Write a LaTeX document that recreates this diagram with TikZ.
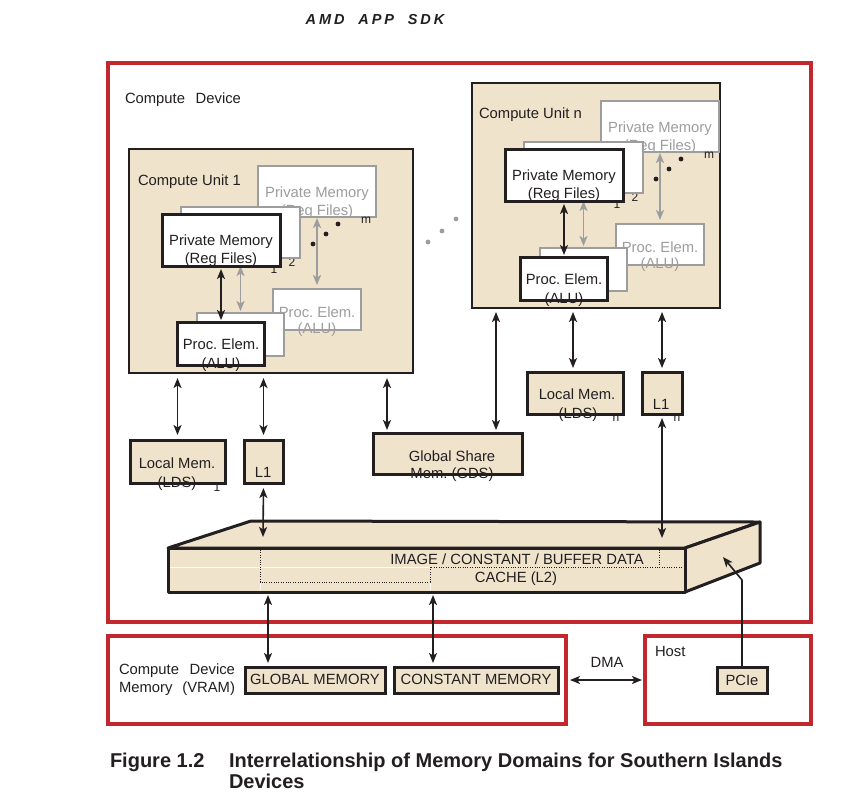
\documentclass[tikz,border=0pt]{standalone}
\usepackage{fontspec}
\setmainfont{Liberation Sans}
\usetikzlibrary{arrows.meta,calc}
\definecolor{tanfill}{HTML}{EFE3CC}
\definecolor{redline}{HTML}{C1272D}
\definecolor{grayline}{HTML}{9D9D9D}
\definecolor{ink}{HTML}{231F20}
\newcommand\mainfs{\fontsize{14.8}{17}\selectfont\frenchspacing}
\newcommand\smallfs{\fontsize{12}{14}\selectfont}
\newcommand\hdrfs{\fontsize{14.5}{17}\selectfont\bfseries\itshape\addfontfeature{LetterSpace=20}}
\newcommand\capfs{\fontsize{20}{24}\selectfont\bfseries}
\newcommand\cuparts[1]{%
  % back private memory
  \node[backbox, minimum width=118pt, minimum height=51pt] (pmb#1) at (317,191.5) {};
  \node[glbl] (pmbt#1) at (317,197) {Private Memory};
  \node[glbl] (pmbu#1) at (317,215) {(Reg Files)};
  \node[tiny] (lm#1) at (366,223.5) {m};
  \node[tiny] (l2#1) at (292,266.5) {2};
  \node[tiny] (l1#1) at (274,273) {1};
  \fill[ink] (313,244) circle (2.4pt) (326,234) circle (2.4pt) (338,224) circle (2.4pt);
  % back processing element
  \node[backbox, minimum width=88pt, minimum height=41pt] (peb#1) at (317,309.5) {};
  \node[glbl] (pebt#1) at (317,317) {Proc. Elem.};
  \node[glbl] (pebu#1) at (317,333) {(ALU)};
  \draw[glink, shorten <=1pt, shorten >=4pt] (pmb#1.south) -- (peb#1.north);
  % middle boxes
  \node[backbox, minimum width=87pt, minimum height=43pt] (pem#1) at (240.5,334.5) {};
  \node[backbox, minimum width=119pt, minimum height=51pt] (pmm#1) at (240.5,232.5) {};
  \draw[glink, shorten <=8pt, shorten >=2pt] (pmm#1.south) -- (pem#1.north);
  % front boxes
  \node[frontbox, minimum width=118pt, minimum height=52pt] (pmf#1) at (221,240) {};
  \node[lbl] (pmft#1) at (221,245) {Private Memory};
  \node[lbl] (pmfu#1) at (221,263) {(Reg Files)};
  \node[frontbox, minimum width=87pt, minimum height=43pt] (pef#1) at (220.5,343.5) {};
  \node[lbl] (peft#1) at (221,349) {Proc. Elem.};
  \node[lbl] (pefu#1) at (221,368) {(ALU)};
  \draw[link, shorten <=3pt, shorten >=2pt] (pmf#1.south) -- (pmf#1.south |- pef#1.north);
}
\begin{document}
\begin{tikzpicture}[x=1pt,y=-1pt,>={Stealth[length=10pt,width=8pt,inset=2.5pt]},
  every node/.style={inner sep=0pt,outer sep=0pt,font=\mainfs,text=ink},
  redbox/.style={draw=redline,line width=3.5pt},
  cubox/.style={draw=ink,fill=tanfill,line width=2.6pt},
  tanbox/.style={draw=ink,fill=tanfill,line width=3pt},
  frontbox/.style={draw=ink,fill=white,line width=3pt},
  backbox/.style={draw=grayline,fill=white,line width=2.6pt},
  lbl/.style={anchor=base},
  lblw/.style={anchor=base west},
  glbl/.style={anchor=base,text=grayline},
  tiny/.style={anchor=base,font=\smallfs},
  link/.style={draw=ink,line width=1.6pt,<->},
  glink/.style={draw=grayline,line width=1.6pt,<->},
  onelink/.style={draw=ink,line width=1.6pt,->},
  dotline/.style={draw=ink,line width=0.9pt,dash pattern=on 1pt off 1.4pt},
  capt/.style={anchor=base west,font=\capfs},
]
\useasboundingbox (0,0) rectangle (853,804);
\fill[white] (0,0) rectangle (853,804);

% header
\node[anchor=base,font=\hdrfs] (hdr) at (375,24) {AMD\ \ APP\ \ SDK};

% compute device frame
\node[redbox, minimum width=703pt, minimum height=559pt] (dev) at (459.5,342.5) {};
\node[lblw] (devt) at (125,103) {\makebox[116pt][s]{Compute Device}};

% compute unit 1
\node[cubox, minimum width=284pt, minimum height=224pt] (cu1) at (271,261) {};
\node[lblw] (cu1t) at (138,185) {Compute Unit 1};
\cuparts{a}

% compute unit n
\node[cubox, minimum width=248pt, minimum height=225pt] (cun) at (596,195.5) {};
\node[lblw] (cunt) at (479,118) {Compute Unit n};
\begin{scope}[shift={(343,-65)}]
\cuparts{b}
\end{scope}

% dots between compute units
\fill[grayline] (428,242) circle (2.4pt) (442,231) circle (2.4pt) (456,219) circle (2.4pt);

% small labels partly hidden by boxes
\node[tiny] (lm1i) at (217,491) {1};
\node[tiny] (lmni) at (616,421) {n};
\node[tiny] (l1ni) at (677,421) {n};

% local memories, L1, GDS
\node[tanbox, minimum width=95pt, minimum height=43pt] (lm1) at (177.5,461.5) {};
\node[lbl] (lm1t) at (177,468) {Local Mem.};
\node[lbl] (lm1u) at (177,487) {(LDS)};
\node[tanbox, minimum width=39pt, minimum height=43pt] (l11) at (263.5,461.5) {};
\node[lbl] (l11t) at (263,477) {L1};
\node[tanbox, minimum width=149pt, minimum height=41pt] (gds) at (447.5,453.5) {};
\node[lbl] (gdst) at (452,461) {Global Share};
\node[lbl] (gdsu) at (452,478) {Mem. (GDS)};
\node[tanbox, minimum width=96pt, minimum height=42pt] (lmn) at (575,393) {};
\node[lbl] (lmnt) at (577,399) {Local Mem.};
\node[lbl] (lmnu) at (578,418) {(LDS)};
\node[tanbox, minimum width=40pt, minimum height=42pt] (l1n) at (662,393) {};
\node[lbl] (l1nt) at (661,409) {L1};

% L2 slab
\coordinate (fa) at (168,548);
\coordinate (fb) at (685,548);
\coordinate (fc) at (685,592);
\coordinate (fd) at (168,592);
\coordinate (ba) at (251,521);
\coordinate (bb) at (760,522);
\coordinate (bc) at (760,563);
\begin{scope}[line join=round]
\filldraw[fill=tanfill,draw=ink,line width=3pt] (fa) -- (ba) -- (bb) -- (fb) -- cycle;
\filldraw[fill=tanfill,draw=ink,line width=3pt] (fb) -- (bb) -- (bc) -- (fc) -- cycle;
\filldraw[fill=tanfill,draw=ink,line width=3pt] (fa) -- (fb) -- (fc) -- (fd) -- cycle;
\end{scope}
\draw[white!85!tanfill,line width=0.8pt] (170,567) -- (430,567) (260,582) -- (260,590) (430,582) -- (430,590);
\draw[dotline] (260,550) -- (260,582) -- (430,582) -- (430,567) -- (683,567);
\draw[dotline] (659,550) -- (659,567);
\node[lbl] (l2t) at (517,564) {IMAGE / CONSTANT / BUFFER DATA};
\node[lbl] (l2u) at (516,582) {CACHE (L2)};
\coordinate (st1) at (263,537);
\coordinate (st2) at (662,538);
\coordinate (sb1) at (268,592);
\coordinate (sb2) at (433,592);
\coordinate (sr) at (723,557);

% connectors from compute units
\draw[link, shorten <=5pt, shorten >=5pt] (cu1.south -| lm1.north) -- (lm1.north);
\draw[link, shorten <=5pt, shorten >=5pt] (cu1.south -| l11.north) -- (l11.north);
\coordinate (gdsa) at ([xshift=14pt]gds.north west);
\coordinate (gdsb) at ([xshift=123pt]gds.north west);
\draw[link, shorten <=5pt, shorten >=3pt] (cu1.south -| gdsa) -- (gdsa);
\draw[link, shorten <=4pt, shorten >=3pt] (cun.south -| gdsb) -- (gdsb);
\coordinate (lmna) at ([xshift=46pt]lmn.north west);
\draw[link, shorten <=4pt, shorten >=4pt] (cun.south -| lmna) -- (lmna);
\draw[link, shorten <=4pt, shorten >=4pt] (cun.south -| l1n.north) -- (l1n.north);
\draw[link, shorten <=5pt] (l11.south) -- (st1);
\draw[link, shorten <=4pt] (l1n.south) -- (st2);

% compute device memory frame
\node[redbox, minimum width=458pt, minimum height=88pt] (vram) at (337,680) {};
\node[lblw] (vramt) at (119,674) {\makebox[116pt][s]{Compute Device}};
\node[lblw] (vramu) at (119,692) {\makebox[116pt][s]{Memory (VRAM)}};
\node[tanbox, minimum width=140pt, minimum height=26pt] (gm) at (315,680) {};
\node[lbl] (gmt) at (315,684) {GLOBAL MEMORY};
\node[tanbox, minimum width=164pt, minimum height=26pt] (cm) at (476,680) {};
\node[lbl] (cmt) at (476,684) {CONSTANT MEMORY};
\coordinate (gma) at ([xshift=23pt]gm.north west);
\coordinate (cma) at ([xshift=39pt]cm.north west);
\draw[link, shorten <=3pt, shorten >=4pt] (sb1) -- (gma);
\draw[link, shorten <=3pt, shorten >=4pt] (sb2) -- (cma);

% host
\node[redbox, minimum width=166pt, minimum height=88pt] (host) at (728,680) {};
\node[lblw] (hostt) at (655,656) {Host};
\node[tanbox, minimum width=50pt, minimum height=26pt] (pcie) at (742,680) {};
\node[lbl] (pciet) at (742,685) {PCIe};
\coordinate (bend) at (742,580);
\draw[onelink, line join=round] (pcie.north) -- (bend) -- (sr);

% DMA
\draw[link, shorten <=4pt, shorten >=3pt] (vram.east |- vram.center) -- (host.west |- host.center);
\node[lbl] (dmat) at (607,667) {DMA};

% caption
\node[capt] (capn) at (110,767) {Figure 1.2};
\node[capt] (cap1) at (229,767) {Interrelationship of Memory Domains for Southern Islands};
\node[capt] (cap2) at (229,788) {Devices};
\end{tikzpicture}
\end{document}
